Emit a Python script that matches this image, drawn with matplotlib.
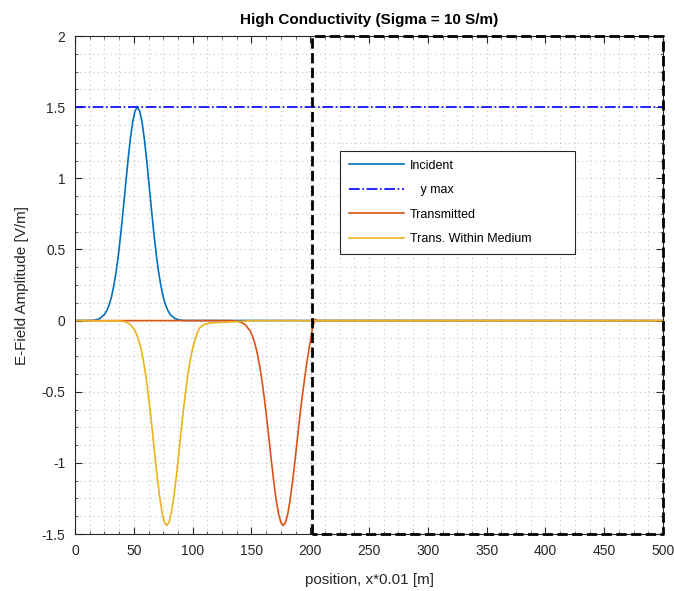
import numpy as np
import matplotlib.pyplot as plt
from matplotlib.ticker import AutoMinorLocator, FormatStrFormatter, MultipleLocator

plt.rcParams['font.family'] = ['Liberation Sans', 'DejaVu Sans']

# values
inc_x = [0, 13, 17, 21, 25, 27, 29, 31, 33, 35, 37, 39, 41, 43, 45, 47, 49, 51, 53,
         55, 57, 59, 61, 63, 65, 67, 69, 71, 73, 75, 77, 79, 81, 85, 89, 93, 500]
inc_y = [0, 0.001, 0.004, 0.014, 0.043, 0.070, 0.110, 0.167, 0.245, 0.345, 0.470, 0.617,
         0.781, 0.953, 1.122, 1.274, 1.395, 1.473, 1.5,
         1.473, 1.395, 1.274, 1.122, 0.953, 0.781, 0.617, 0.470, 0.345, 0.245, 0.167,
         0.110, 0.070, 0.043, 0.014, 0.004, 0.001, 0]

trans_x = [0, 130, 137, 141, 145, 149, 151, 153, 155, 157, 159, 161, 163, 165, 167, 169,
           171, 173, 175, 177, 179, 181, 183, 185, 187, 189, 191, 193, 195, 197, 199, 200,
           201, 202, 204, 206, 500]
trans_y = [0, 0, -0.003, -0.011, -0.030, -0.074, -0.112, -0.163, -0.231, -0.317, -0.423,
           -0.547, -0.686, -0.836, -0.987, -1.130, -1.257, -1.355, -1.418, -1.44,
           -1.418, -1.355, -1.257, -1.130, -0.987, -0.836, -0.686, -0.547, -0.423, -0.30,
           -0.20, -0.15, -0.10, -0.05, 0.01, 0, 0]

med_x = [0, 38, 42, 46, 50, 52, 54, 56, 58, 60, 62, 64, 66, 68, 70, 72, 74, 76, 78,
         80, 82, 84, 86, 88, 90, 92, 94, 96, 98, 100, 102, 104, 106, 110, 114, 120, 130,
         140, 150, 500]
med_y = [0, -0.002, -0.007, -0.021, -0.056, -0.088, -0.133, -0.195, -0.276, -0.377, -0.500,
         -0.640, -0.794, -0.953, -1.106, -1.241, -1.348, -1.417, -1.44,
         -1.417, -1.348, -1.241, -1.106, -0.953, -0.794, -0.640, -0.500, -0.377, -0.276,
         -0.195, -0.133, -0.088, -0.05, -0.025, -0.018, -0.014, -0.01, -0.006, 0, 0]

y_max = 1.5
medium_start = 201.5
x_end = 500

fig = plt.figure(figsize=(6.74, 5.91), dpi=100)
ax = fig.add_axes([0.1113, 0.0964, 0.8724, 0.8426])

ax.plot(inc_x, inc_y, color='#0072BD', lw=1.2, label='Incident')
ax.plot([0, x_end], [y_max, y_max], color='#0000FF', lw=1.2, ls='-.', label='   y max')
ax.plot(trans_x, trans_y, color='#D95319', lw=1.2, label='Transmitted')
ax.plot(med_x, med_y, color='#EDB120', lw=1.2, label='Trans. Within Medium')

# medium boundary box
ax.plot([medium_start, medium_start, x_end, x_end, medium_start],
        [-1.5, 2, 2, -1.5, -1.5], color='black', lw=2, ls='--', clip_on=False, zorder=5)

ax.set_xlim(0, 500)
ax.set_ylim(-1.5, 2)
ax.xaxis.set_major_locator(MultipleLocator(50))
ax.yaxis.set_major_locator(MultipleLocator(0.5))
ax.xaxis.set_minor_locator(AutoMinorLocator(4))
ax.yaxis.set_minor_locator(AutoMinorLocator(4))
ax.yaxis.set_major_formatter(FormatStrFormatter('%g'))

ax.grid(which='both', color='#c4c4c4', lw=0.8, ls=(0, (1, 3)))
ax.set_axisbelow(True)
ax.tick_params(which='both', direction='in', top=True, right=True, colors='#262626',
               labelsize=10, labelcolor='#262626')
ax.tick_params(which='major', length=5, width=0.8, pad=7)
ax.tick_params(which='minor', length=2.5, width=0.5)
for s in ax.spines.values():
    s.set_color('#262626')
    s.set_linewidth(0.8)

ax.set_title('High Conductivity (Sigma = 10 S/m)', fontsize=11, fontweight='bold', pad=9)
ax.set_xlabel('position, x*0.01 [m]', fontsize=11, color='#262626', labelpad=11)
ax.set_ylabel('E-Field Amplitude [V/m]', fontsize=11, color='#262626', labelpad=9)

leg = ax.legend(loc='upper left', bbox_to_anchor=(0.451, 0.769, 0.399, 0), mode='expand',
                borderaxespad=0, fontsize=9, handlelength=4.4, handletextpad=0.5,
                labelspacing=1.0, borderpad=0.7, fancybox=False, framealpha=1,
                edgecolor='#262626')
leg.get_frame().set_linewidth(0.8)

fig.savefig('out.png', dpi=100)
